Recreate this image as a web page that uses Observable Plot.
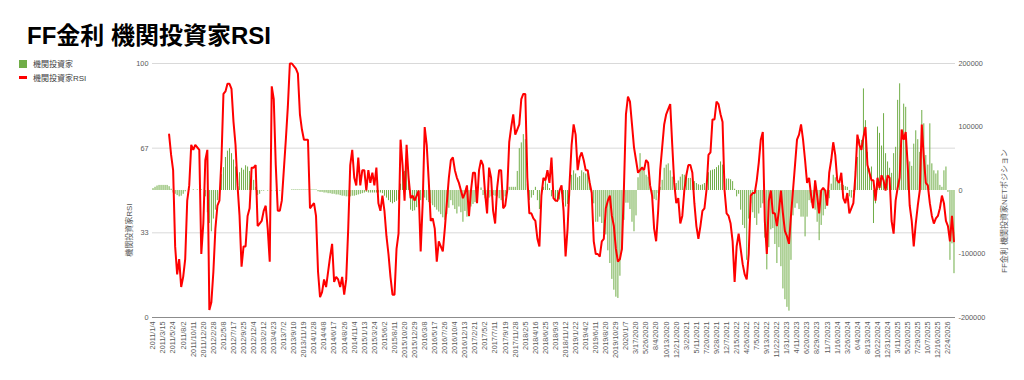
<!DOCTYPE html>
<html><head><meta charset="utf-8">
<script src="https://cdn.jsdelivr.net/npm/d3@7"></script>
<script src="https://cdn.jsdelivr.net/npm/@observablehq/plot@0.6"></script>
<style>
body{margin:0;background:#fff;}
#wrap{position:relative;width:1024px;height:380px;font-family:"Liberation Sans","Noto Sans CJK JP",sans-serif;overflow:hidden;}
#chart{position:absolute;left:0;top:0;}
#title{position:absolute;left:27px;top:16px;font-size:24px;font-weight:bold;color:#000;white-space:nowrap;font-family:"Liberation Sans","Noto Sans CJK JP",sans-serif;}
.leg{position:absolute;left:19px;font-size:8px;color:#404040;display:flex;align-items:center;white-space:nowrap;}
.sw{display:inline-block;width:8px;margin-right:6px;}
.ytitle{position:absolute;font-size:8px;color:#595959;white-space:nowrap;transform:translate(-50%,-50%) rotate(-90deg);}
</style></head>
<body>
<div id="wrap">
  <div id="chart"></div>
  <div id="title">FF金利 機関投資家RSI</div>
  <div class="leg" style="top:58px"><span class="sw" style="height:8px;background:#70AD47"></span>機関投資家</div>
  <div class="leg" style="top:72px"><span class="sw" style="height:2.5px;background:#ff0000"></span>機関投資家RSI</div>
  <div class="ytitle" style="left:128px;top:230px">機関投資家RSI</div>
  <div class="ytitle" style="left:1003px;top:211px">FF金利 機関投資家NETポジション</div>
</div>
<script>
// x-axis category labels (one every 10 weeks)
const xLabels = [
"2011/1/4","2011/3/15","2011/5/24","2011/8/2","2011/10/11","2011/12/20",
"2012/2/28","2012/5/8","2012/7/17","2012/9/25","2012/12/4",
"2013/2/12","2013/4/23","2013/7/2","2013/9/10","2013/11/19",
"2014/1/28","2014/4/8","2014/6/17","2014/8/26","2014/11/4",
"2015/1/13","2015/3/24","2015/6/2","2015/8/11","2015/10/20","2015/12/29",
"2016/3/8","2016/5/17","2016/7/26","2016/10/4","2016/12/13",
"2017/2/21","2017/5/2","2017/7/11","2017/9/19","2017/11/28",
"2018/2/5","2018/4/16","2018/6/25","2018/9/3","2018/11/12",
"2019/1/22","2019/4/2","2019/6/11","2019/8/20","2019/10/29",
"2020/1/7","3/17/2020","5/26/2020","8/4/2020","10/13/2020","12/21/2020",
"3/2/2021","5/11/2021","7/20/2021","9/28/2021","12/7/2021",
"2/15/2022","4/26/2022","7/5/2022","9/13/2022","11/22/2022",
"1/31/2023","4/11/2023","6/20/2023","8/29/2023","11/7/2023",
"1/16/2024","3/26/2024","6/4/2024","8/13/2024","10/22/2024","12/31/2024",
"3/11/2025","5/20/2025","7/29/2025","10/7/2025","12/16/2025","2/24/2026"
];
const nWeeks = 798;        // weekly categories on the axis
const sampleStep = 2;      // series below are read every 2 weeks
const rsiStartWeek = 16;   // RSI starts after its look-back period

// 機関投資家RSI (left axis, 0-100), every 2 weeks from week 16
const rsi = [
72,64,58,28,17,23,12,16,23,46,
52,68,66,68,67,66,25,37,62,66,
3,6,18,35,44,46,62,88,89,92,
92,90,77,68,52,40,20,28,28,40,
43,59,59,60,36,37,38,42,44,35,
22,91,86,60,42,42,46,58,70,83,
100,100,99,98,96,80,74,70,70,70,
43,44,45,40,18,8,10,15,12,18,
24,29,14,16,15,12,16,9,15,35,
60,66,55,52,63,52,58,58,50,58,
53,57,52,59,45,42,48,42,32,25,
16,9,9,27,33,70,60,46,68,55,
47,48,46,48,50,26,45,75,68,54,
38,39,35,22,30,28,26,35,45,55,
62,63,58,55,53,50,47,49,52,40,
50,57,57,45,58,62,60,49,41,59,
55,42,37,51,58,58,43,44,50,69,
75,80,72,74,76,86,88,88,55,41,
41,39,38,31,28,48,55,54,58,53,
63,47,46,46,50,52,42,24,35,53,
68,76,72,58,63,65,62,58,58,53,
49,30,25,25,24,30,31,43,46,48,
40,36,27,22,23,27,51,80,87,85,
76,67,62,57,58,59,58,62,61,52,
48,35,30,42,58,67,76,80,82,84,
68,53,45,47,37,40,50,56,60,60,
57,45,36,31,36,42,43,50,64,65,
78,78,85,84,80,77,50,41,40,37,
30,14,28,33,27,21,17,15,25,48,
49,49,54,61,70,73,38,25,46,50,
41,41,36,42,50,41,34,32,29,40,
50,60,70,72,76,70,62,53,55,48,
43,54,48,41,50,51,50,44,57,62,
69,64,54,53,57,47,45,49,41,43,
45,56,72,68,66,71,75,60,57,54,
54,46,55,51,56,54,50,56,55,38,
33,46,51,55,74,70,73,60,44,38,
28,37,44,50,76,63,53,52,45,40,
37,39,40,43,48,45,38,36,30,40,
30
];

// 機関投資家 net position (right axis), thousands of contracts, every 2 weeks from week 0
const netK = [
3,5,7,8,8,8,8,8,6,2,
-4,-6,-8,-10,-9,-6,-2,0,1,0,
1,0,1,0,1,0,-10,-35,-52,-65,
-45,-31,-16,-8,25,36,52,62,66,58,
48,37,25,28,35,32,39,37,30,22,
16,5,-8,-6,-1,-1,0,-1,0,-1,
0,-1,0,-1,0,0,0,0,0,1,
1,1,1,1,1,1,1,1,1,1,
1,1,-2,-3,-3,-4,-4,-5,-5,-6,
-6,-7,-7,-8,-9,-9,-10,-10,-10,-9,
-9,-8,-7,-6,-5,-4,-3,-4,-4,-4,
-4,-4,-4,-4,-5,-9,-12,-16,-19,-21,
-19,-17,-15,10,31,30,45,22,-31,-33,
-32,-27,-20,-16,-11,-12,-16,-19,-21,-24,
-27,-31,-34,-38,-43,-47,-38,-28,-16,-24,
-30,-37,-26,-35,-50,-33,-42,-42,-26,-22,
-19,-16,0,4,-8,-13,-16,-12,-10,-8,
-9,-10,-13,-16,-18,-10,-5,5,5,5,
5,30,66,75,88,80,10,-16,-12,-8,
5,-16,-30,-25,5,21,10,3,-10,-13,
-16,-19,-15,-6,-16,-26,-22,-10,24,31,
26,20,22,31,28,26,27,12,-5,-21,
-50,-50,-42,-52,-68,-70,-95,-115,-140,-157,
-168,-170,-135,-95,-47,-20,-20,-30,-50,-65,
-40,20,58,37,30,24,21,5,-10,-14,
-16,-5,5,16,35,40,42,31,21,15,
11,15,21,25,24,21,19,19,17,14,
11,9,8,9,11,14,28,31,32,33,
36,39,45,40,22,18,18,17,14,2,
-10,-6,-31,-55,-60,-110,-45,-21,-35,-44,
-55,-37,-28,-21,-75,-125,-90,-62,-60,-85,
-115,-90,-120,-155,-172,-184,-190,-110,-40,-28,
-21,-30,-42,-42,-73,-42,-16,-20,-24,-31,
-50,-79,-55,-40,-30,-21,-13,10,24,20,
16,12,10,8,6,5,-10,-12,-3,30,
52,80,79,160,110,60,34,37,-52,-21,
100,90,70,121,58,45,35,27,58,68,
142,168,80,136,131,47,45,38,73,94,
80,60,126,105,55,40,105,42,31,26,
31,8,5,31,37,-3,-110,-84,-131
];

const leftTicks = [0, 100/3, 200/3, 100];
const rightTickValues = [-200000, -100000, 0, 100000, 200000];
const rightMax = 200000;

// map right-axis value onto the left 0..100 scale
const toLeft = v => 50 + 50 * v / rightMax;

const rsiData = rsi.map((v, i) => ({w: rsiStartWeek + i * sampleStep, v}));
const netData = netK.map((v, i) => ({w: i * sampleStep, v: v * 1000}));

const chart = Plot.plot({
  width: 1024, height: 380,
  marginLeft: 152, marginRight: 69, marginTop: 63, marginBottom: 63,
  style: {fontFamily: "Liberation Sans, Noto Sans CJK JP, sans-serif", fontSize: "7.3px", color: "#595959", background: "transparent"},
  x: {domain: [-0.5, nWeeks - 0.5]},
  y: {domain: [0, 100]},
  marks: [
    Plot.ruleY(leftTicks, {stroke: "#d9d9d9", strokeWidth: 1}),
    Plot.ruleX(netData, {x: "w", y1: () => 50, y2: d => toLeft(d.v), stroke: "#70AD47", strokeWidth: 1}),
    Plot.ruleY([0], {stroke: "#8c8c8c", strokeWidth: 1}),
    Plot.line(rsiData, {x: "w", y: "v", stroke: "#ff0000", strokeWidth: 2, strokeLinejoin: "miter"}),
    Plot.axisX(d3.range(0, xLabels.length * 10, 10), {
      tickFormat: i => xLabels[i / 10], tickRotate: -90, tickSize: 0, tickPadding: 4, label: null
    }),
    Plot.axisY(leftTicks, {anchor: "left", tickFormat: d => String(Math.round(d)), tickSize: 0, tickPadding: 4, label: null}),
    Plot.axisY(rightTickValues.map(toLeft), {
      anchor: "right", tickFormat: (d, i) => String(rightTickValues[i]), tickSize: 0, tickPadding: 3, label: null
    })
  ]
});
document.getElementById("chart").appendChild(chart);
</script>
</body></html>
